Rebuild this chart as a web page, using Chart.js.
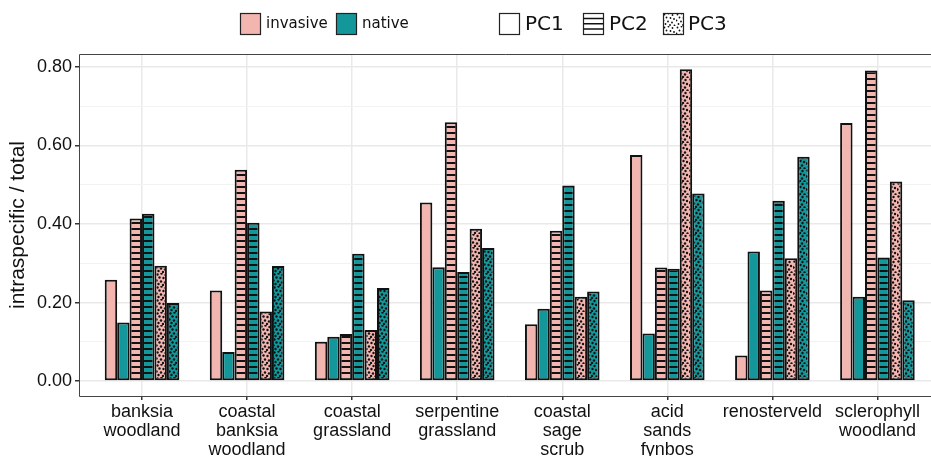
<!DOCTYPE html>
<html>
<head>
<meta charset="utf-8">
<script src="https://cdn.jsdelivr.net/npm/chart.js@4"></script>
<style>
  html, body { margin: 0; padding: 0; background: #fff; overflow: hidden; }
</style>
</head>
<body>
<canvas id="myChart" width="931" height="456"></canvas>
<script>
const categories = [
	['banksia', 'woodland'],
	['coastal', 'banksia', 'woodland'],
	['coastal', 'grassland'],
	['serpentine', 'grassland'],
	['coastal', 'sage', 'scrub'],
	['acid', 'sands', 'fynbos'],
	['renosterveld'],
	['sclerophyll', 'woodland']
];
const pc1Invasive = [0.258, 0.231, 0.100, 0.455, 0.145, 0.576, 0.065, 0.657];
const pc1Native   = [0.149, 0.074, 0.113, 0.290, 0.184, 0.121, 0.330, 0.215];
const pc2Invasive = [0.414, 0.538, 0.120, 0.659, 0.383, 0.289, 0.231, 0.791];
const pc2Native   = [0.426, 0.403, 0.324, 0.278, 0.498, 0.286, 0.459, 0.315];
const pc3Invasive = [0.294, 0.177, 0.130, 0.388, 0.215, 0.794, 0.313, 0.508];
const pc3Native   = [0.199, 0.293, 0.237, 0.339, 0.228, 0.478, 0.571, 0.206];
const yTicks = [0, 0.1, 0.2, 0.3, 0.4, 0.5, 0.6, 0.7, 0.8];

const pink = '#f2b5b0';
const teal = '#13979a';
const canvas = document.getElementById('myChart');
const mainCtx = canvas.getContext('2d');

// fill patterns like ggpattern
function stripes(bg) {
	const c = document.createElement('canvas');
	c.width = 8; c.height = 6;
	const x = c.getContext('2d');
	x.fillStyle = bg; x.fillRect(0, 0, 8, 6);
	x.fillStyle = '#111'; x.fillRect(0, 0, 8, 2);
	return mainCtx.createPattern(c, 'repeat');
}
const dotSpots = [[1.5,1.5],[5.5,0.5],[9.5,2],[3.5,4.5],[7.5,5],[11,6],[0.5,7.5],[5,8.5],[9,9.5],[2.5,11],[7,12],[11.5,12.5]];
function dots(bg, r) {
	const c = document.createElement('canvas');
	c.width = 13; c.height = 13;
	const x = c.getContext('2d');
	x.fillStyle = bg; x.fillRect(0, 0, 13, 13);
	x.fillStyle = '#111';
	dotSpots.forEach(p => { x.beginPath(); x.arc(p[0], p[1], r, 0, Math.PI * 2); x.fill(); });
	return mainCtx.createPattern(c, 'repeat');
}

function series(label, values, fill) {
	return {
		label: label,
		data: values.map((v, i) => ({ x: i + 1, y: v })),
		backgroundColor: fill,
		borderColor: '#111',
		borderWidth: 2,
		borderSkipped: false,
		categoryPercentage: 0.71,
		barPercentage: 1.0
	};
}

const isMajor = v => Math.round(v * 10) % 2 === 0;

const legendBoxes = {
	id: 'legendBoxes',
	afterDraw(chart) {
		const ctx = chart.ctx, a = chart.chartArea;
		ctx.save();
		// panel border (right side falls off the picture)
		ctx.strokeStyle = '#444';
		ctx.lineWidth = 1;
		ctx.beginPath();
		ctx.moveTo(a.right, a.top + 0.5); ctx.lineTo(a.left + 0.5, a.top + 0.5);
		ctx.lineTo(a.left + 0.5, a.bottom + 0.5); ctx.lineTo(a.right, a.bottom + 0.5);
		ctx.stroke();

		ctx.textBaseline = 'middle';
		function box(x, fill) {
			ctx.fillStyle = fill;
			ctx.fillRect(x, 13, 20, 21);
			ctx.strokeStyle = '#222';
			ctx.lineWidth = 1.2;
			ctx.strokeRect(x + 0.5, 13.5, 20, 21);
		}
		box(240, pink);
		box(336, teal);
		ctx.fillStyle = '#111';
		ctx.font = '15px "DejaVu Sans"';
		ctx.fillText('invasive', 266, 24);
		ctx.fillText('native', 362, 24);

		box(499, '#fff');
		box(583, '#fff');
		ctx.strokeStyle = '#111';
		ctx.lineWidth = 1.5;
		[18.5, 23.75, 29].forEach(y => {
			ctx.beginPath(); ctx.moveTo(583.5, y); ctx.lineTo(603.5, y); ctx.stroke();
		});
		box(663, dots('#fff', 0.9));
		ctx.fillStyle = '#111';
		ctx.font = '20px "DejaVu Sans"';
		ctx.fillText('PC1', 525, 25);
		ctx.fillText('PC2', 609, 25);
		ctx.fillText('PC3', 688, 25);
		ctx.restore();
	}
};

Chart.defaults.font.family = '"Liberation Sans", Arial, sans-serif';
Chart.defaults.color = '#111';

new Chart(canvas, {
	type: 'bar',
	data: {
		datasets: [
			series('PC1 invasive', pc1Invasive, pink),
			series('PC1 native', pc1Native, teal),
			series('PC2 invasive', pc2Invasive, stripes(pink)),
			series('PC2 native', pc2Native, stripes(teal)),
			series('PC3 invasive', pc3Invasive, dots(pink, 1.2)),
			series('PC3 native', pc3Native, dots(teal, 1.2))
		]
	},
	options: {
		responsive: false,
		animation: false,
		layout: { padding: { top: 54, left: 0, right: 0, bottom: 0 } },
		plugins: { legend: { display: false }, tooltip: { enabled: false } },
		scales: {
			x: {
				type: 'linear',
				min: 0.4,
				max: 8.51,
				offset: false,
				afterBuildTicks: s => { s.ticks = categories.map((c, i) => ({ value: i + 1 })); },
				afterFit: s => { s.height = 60; },
				border: { display: false },
				grid: { offset: false, color: '#e9e9e9', lineWidth: 1.5, tickColor: '#333', tickLength: 4 },
				ticks: {
					autoSkip: false,
					maxRotation: 0,
					padding: 2,
					font: { size: 18, lineHeight: 1.07 },
					callback: v => categories[Math.round(v) - 1]
				}
			},
			y: {
				min: -0.038,
				max: 0.833,
				afterBuildTicks: s => { s.ticks = yTicks.map(v => ({ value: v })); },
				afterFit: s => { s.width = 79; },
				border: { display: false },
				grid: {
					color: c => isMajor(c.tick.value) ? '#e9e9e9' : '#f2f2f2',
					lineWidth: c => isMajor(c.tick.value) ? 1.5 : 1,
					tickColor: c => isMajor(c.tick.value) ? '#333' : 'rgba(0,0,0,0)',
					tickLength: 4
				},
				ticks: {
					autoSkip: false,
					padding: 3,
					font: { size: 18 },
					callback: v => isMajor(v) ? v.toFixed(2) : ''
				},
				title: {
					display: true,
					text: 'intraspecific / total',
					font: { size: 21 },
					padding: { top: 6, bottom: 0 },
					color: '#111'
				}
			}
		}
	},
	plugins: [legendBoxes]
});
</script>
</body>
</html>
